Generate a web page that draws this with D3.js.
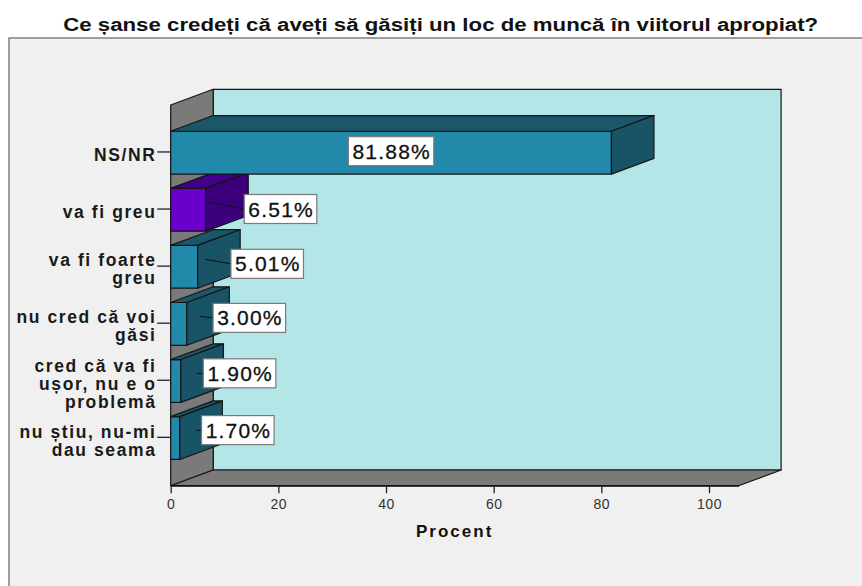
<!DOCTYPE html>
<html>
<head>
<meta charset="utf-8">
<script src="https://cdn.jsdelivr.net/npm/d3@7"></script>
<style>
  body { margin: 0; background: #ffffff; }
  text { font-family: "Liberation Sans", Arial, sans-serif; }
</style>
</head>
<body>
<div id="chart"></div>
<script>

var chartTitle = "Ce șanse credeți că aveți să găsiți un loc de muncă în viitorul apropiat?";
var categories = ["NS/NR", "va fi greu", "va fi foarte greu", "nu cred că voi găsi",
  "cred că va fi ușor, nu e o problemă", "nu știu, nu-mi dau seama"];
var categoryLines = [["NS/NR"], ["va fi greu"], ["va fi foarte", "greu"], ["nu cred că voi", "găsi"],
  ["cred că va fi", "ușor, nu e o", "problemă"], ["nu știu, nu-mi", "dau seama"]];
var percents = [81.88, 6.51, 5.01, 3.00, 1.90, 1.70];
var xTicks = [0, 20, 40, 60, 80, 100];
var axisTitle = "Procent";

/************************************************************************************************************/

var W = 862, H = 586;
var svg = d3.select("#chart").append("svg").attr("width", W).attr("height", H);

// 3D depth offset of the walls and bars
var depth = {dx: 42.5, dy: -15.7};

var colors = {
  panel: "#f0f0f0", wall: "#b4e6e7", side: "#7a7a7a",
  front: "#2389ab", top: "#1b5769", right: "#195366",
  hiFront: "#6a00cc", hiTop: "#42008a", hiRight: "#3c007d",
  edge: "#151515"
};

svg.x = d3.scaleLinear().domain([0, 105.5]).range([170.7, 738.6]);
svg.y = d3.scaleBand().domain(categories).range([105, 485.7]).paddingInner(0.25).paddingOuter(0.46);

var x0 = svg.x(0), x1 = svg.x(svg.x.domain()[1]);
var yTop = svg.y.range()[0], yBot = svg.y.range()[1];

// outer panel
svg.append("rect").attr("x", 9).attr("y", 38).attr("width", W + 20).attr("height", H)
  .attr("fill", colors.panel).attr("stroke", "#808080").attr("stroke-width", 1.5);

svg.append("text").attr("x", 440.7).attr("y", 31.4).attr("text-anchor", "middle")
  .attr("font-size", 17.5).attr("font-weight", "bold").attr("fill", "#111")
  .attr("textLength", 755).attr("lengthAdjust", "spacingAndGlyphs")
  .text(chartTitle);

function poly(g, pts, fill){
  return g.append("polygon").attr("points", pts.map(function(p){ return p.join(","); }).join(" "))
    .attr("fill", fill).attr("stroke", colors.edge).attr("stroke-width", 1.2).attr("stroke-linejoin", "round");
}

// walls
var walls = svg.append("g");
poly(walls, [[x0 + depth.dx, yTop + depth.dy], [x1 + depth.dx, yTop + depth.dy],
  [x1 + depth.dx, yBot + depth.dy], [x0 + depth.dx, yBot + depth.dy]], colors.wall);
poly(walls, [[x0, yTop], [x0 + depth.dx, yTop + depth.dy], [x0 + depth.dx, yBot + depth.dy], [x0, yBot]], colors.side);
poly(walls, [[x0, yBot], [x1, yBot], [x1 + depth.dx, yBot + depth.dy], [x0 + depth.dx, yBot + depth.dy]], colors.side);

// bars, drawn from the bottom category up so the upper ones sit in front
var bars = svg.append("g");
d3.range(categories.length).reverse().forEach(function(i){
  var c = categories[i], v = percents[i];
  var y0 = svg.y(c), h = svg.y.bandwidth(), xe = svg.x(v);
  var hi = (i === 1);
  var g = bars.append("g");
  poly(g, [[x0, y0], [xe, y0], [xe, y0 + h], [x0, y0 + h]], hi ? colors.hiFront : colors.front);
  poly(g, [[x0, y0], [xe, y0], [xe + depth.dx, y0 + depth.dy], [x0 + depth.dx, y0 + depth.dy]], hi ? colors.hiTop : colors.top);
  poly(g, [[xe, y0], [xe + depth.dx, y0 + depth.dy], [xe + depth.dx, y0 + h + depth.dy], [xe, y0 + h]], hi ? colors.hiRight : colors.right);
});

// category axis: ticks and wrapped labels
var yAxis = svg.append("g");
categories.forEach(function(c, i){
  var yc = svg.y(c) + svg.y.bandwidth() / 2;
  yAxis.append("line").attr("x1", x0 - 13.5).attr("x2", x0).attr("y1", yc - 0.7).attr("y2", yc - 0.7)
    .attr("stroke", "#222").attr("stroke-width", 1.3);
  var lines = categoryLines[i];
  var t = yAxis.append("text").attr("text-anchor", "end").attr("font-size", 17.5).attr("font-weight", "bold")
    .attr("letter-spacing", 1.6).attr("fill", "#1a1a1a");
  lines.forEach(function(line, k){
    t.append("tspan").attr("x", 156.5).attr("y", yc + 8.6 - (lines.length - 1) * 9 + k * 18).text(line);
  });
});

// value axis
svg.axisx = svg.append("g").attr("transform", "translate(0," + yBot + ")");
svg.axisx.call(d3.axisBottom(svg.x).tickValues(xTicks).tickSize(7.5).tickSizeOuter(0).tickPadding(5.5));
svg.axisx.select(".domain").attr("stroke", colors.edge).attr("stroke-width", 1.2);
svg.axisx.selectAll(".tick line").attr("stroke", "#222").attr("stroke-width", 1.3);
svg.axisx.selectAll(".tick text").attr("font-size", 14).attr("fill", "#333")
  .attr("font-family", "\"Liberation Sans\", Arial, sans-serif").attr("letter-spacing", 0.5);

svg.append("text").attr("x", (x0 + x1) / 2).attr("y", 536.8).attr("text-anchor", "middle")
  .attr("font-size", 17).attr("font-weight", "bold").attr("letter-spacing", 2).attr("fill", "#111")
  .text(axisTitle);

// value labels
var labels = svg.append("g");
categories.forEach(function(c, i){
  var v = percents[i];
  var yc = svg.y(c) + svg.y.bandwidth() / 2;
  var xe = svg.x(v);
  var g = labels.append("g");
  var t = g.append("text").attr("text-anchor", "middle").attr("font-size", 21).attr("letter-spacing", 1.2)
    .attr("fill", "#111").attr("stroke", "#111").attr("stroke-width", 0.3).text(v.toFixed(2) + "%");
  var tw = t.node().getComputedTextLength();
  var bw = tw + 7, bh = 29;
  var cx, cy;
  if (xe - x0 > bw + 20) {
    // inside the front face
    cx = (x0 + xe) / 2;
    cy = yc - 1.5;
  } else {
    // outside, with a leader line from the right face
    cx = svg.x(v * 1.65) + 52;
    cy = yc - 1.5 * (7 - v);
    g.insert("line", "text").attr("x1", (xe + x0 + depth.dx) / 2).attr("y1", yc - 7.5)
      .attr("x2", cx - bw / 2).attr("y2", cy).attr("stroke", "#111").attr("stroke-width", 1);
  }
  g.insert("rect", "text").attr("x", cx - bw / 2).attr("y", cy - bh / 2).attr("width", bw).attr("height", bh)
    .attr("fill", "#ffffff").attr("stroke", "#7a7a7a").attr("stroke-width", 1.2);
  t.attr("x", cx + 0.6).attr("y", cy + 7.5);
});

</script>
</body>
</html>
